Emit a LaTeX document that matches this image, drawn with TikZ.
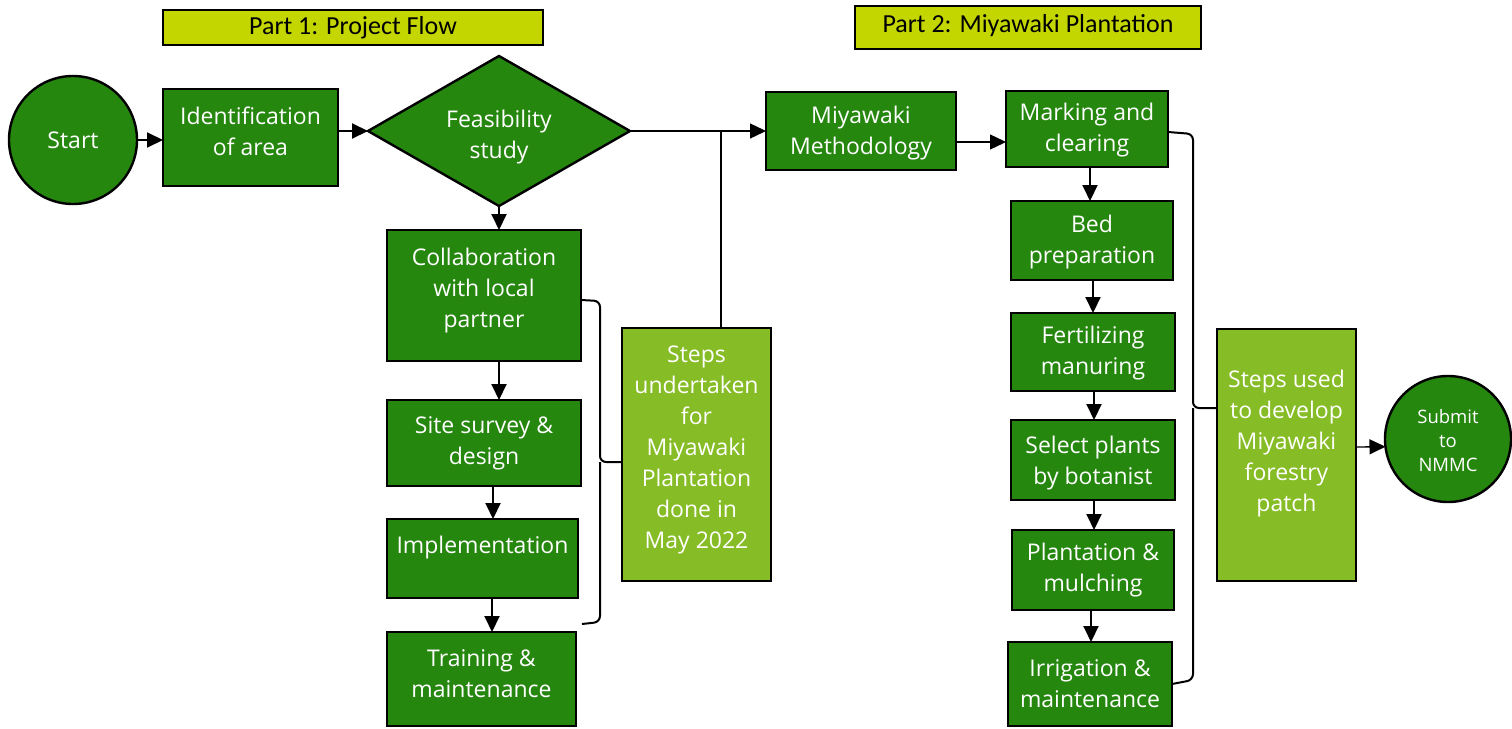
\documentclass[tikz,border=0pt]{standalone}
\usepackage{fontspec}
\setmainfont{Open Sans}
\newfontfamily\titlefont{Carlito}
\usetikzlibrary{shapes.geometric,arrows.meta}
\definecolor{dkgreen}{RGB}{38,135,15}
\definecolor{ltgreen}{RGB}{134,188,37}
\definecolor{titlecol}{RGB}{196,214,0}
\newcommand{\hst}[1][17]{\rule{0pt}{#1pt}}
\newcommand{\dst}[1][16]{\rule[-#1pt]{0pt}{0pt}}
\begin{document}
\begin{tikzpicture}[x=1pt,y=-1pt,
  every node/.style={inner sep=0pt, outer sep=0pt},
  box/.style={draw=black, line width=2.4pt, fill=dkgreen, text=white, align=center,
    font=\fontsize{23}{31}\selectfont},
  lbox/.style={box, fill=ltgreen},
  rnd/.style={box, circle},
  titlebox/.style={draw=black, line width=1.2pt, fill=titlecol, text=black,
    font=\titlefont\fontsize{26}{30}\selectfont},
  arr/.style={line width=2pt, -{Triangle[length=16pt,width=15pt]}},
  tarr/.style={line width=1.3pt, -{Triangle[length=16pt,width=15pt]}},
  thin/.style={line width=1.3pt},
  brace/.style={line width=2pt, rounded corners=6pt}]
\useasboundingbox (0,0) rectangle (1512,728);

% titles
\node[titlebox, minimum width=380pt, minimum height=35pt] (t1) at (353,27.5) {Part 1: Project Flow};
\node[titlebox, minimum width=346pt, minimum height=43pt] (t2) at (1028,27.5) {Part 2: Miyawaki Plantation\rule[-9pt]{0pt}{0pt}};

% part 1
\node[rnd, minimum size=128pt] (start) at (73,140) {\hst Start};
\node[box, minimum width=175pt, minimum height=97pt] (ident) at (250.5,137.5) {\hst Identification\\of area\dst[12]};
\node[box, diamond, aspect=1.75, minimum width=262pt, minimum height=150pt] (feas) at (499,131) {\hst[29]Feasibility\\study};
\node[box, minimum width=194pt, minimum height=131pt] (collab) at (484,295.5) {\hst Collaboration\\with local\\partner\dst};
\node[box, minimum width=194pt, minimum height=86pt] (site) at (484,443) {\hst Site survey \&\\design\dst[4]};
\node[box, minimum width=191pt, minimum height=79pt] (impl) at (482.5,558.5) {\hst Implementation\dst[28]};
\node[box, minimum width=189pt, minimum height=94pt] (train) at (481.5,679) {\hst Training \&\\maintenance\dst[12]};
\node[lbox, minimum width=149pt, minimum height=253pt] (stepsA) at (696.5,454.5) {\hst Steps\\undertaken\\for\\Miyawaki\\Plantation\\done in\\May 2022\dst[15]};

% part 2
\node[box, minimum width=190pt, minimum height=78pt] (meth) at (861,131) {\hst[21]Miyawaki\\Methodology};
\node[box, minimum width=162pt, minimum height=76pt] (mark) at (1087,129) {\hst[19]Marking and\\clearing};
\node[box, minimum width=162pt, minimum height=79pt] (bed) at (1092,240.5) {\hst[21]Bed\\preparation};
\node[box, minimum width=164pt, minimum height=78pt] (fert) at (1093,352) {\hst[19]Fertilizing\\manuring};
\node[box, minimum width=164pt, minimum height=80pt] (sel) at (1093,460) {\hst[23]Select plants\\by botanist};
\node[box, minimum width=162pt, minimum height=80pt] (plant) at (1093,570) {\hst Plantation \&\\mulching};
\node[box, minimum width=164pt, minimum height=84pt] (irrig) at (1090,684) {\hst Irrigation \&\\maintenance\dst[2]};
\node[lbox, minimum width=139pt, minimum height=252pt] (stepsB) at (1286.5,455) {\hst Steps used\\to develop\\Miyawaki\\forestry\\patch\dst[29]};
\node[rnd, minimum size=126pt, font=\fontsize{18.5}{24}\selectfont] (submit) at (1448,439) {\hst[18]Submit\\to\\NMMC\rule[-1pt]{0pt}{0pt}};

% connectors part 1
\draw[arr] (start.east) -- (start.east -| ident.west);
\draw[arr] ([yshift=6.5pt]ident.east) -- (feas.west);
\draw[arr] (feas.south) -- (feas.south |- collab.north);
\draw[arr] ([xshift=15pt]collab.south) -- ([xshift=15pt]collab.south |- site.north);
\draw[arr] ([xshift=9pt]site.south) -- ([xshift=9pt]site.south |- impl.north);
\draw[arr] ([xshift=9.5pt]impl.south) -- ([xshift=9.5pt]impl.south |- train.north);
\draw[tarr] (feas.east) -- (meth.west);
\draw[thin] ([xshift=24.5pt]stepsA.north) -- ([xshift=24.5pt]stepsA.north |- feas.east);

% brace part 1
\coordinate (bA1) at (600,301);
\coordinate (bA2) at (600,462);
\coordinate (bA3) at (600,622);
\coordinate (bAend) at (582,624);
\draw[brace] ([yshift=-4.5pt]collab.east) -- (bA1) -- (bA2) -- ([yshift=-7.5pt]stepsA.west);
\draw[brace] (bA2) -- (bA3) -- (bAend);

% connectors part 2
\draw[tarr] ([yshift=-11pt]meth.east) -- ([yshift=-11pt]meth.east -| mark.west);
\draw[arr] ([xshift=3pt]mark.south) -- ([xshift=3pt]mark.south |- bed.north);
\draw[arr] ([xshift=1pt]bed.south) -- ([xshift=1pt]bed.south |- fert.north);
\draw[arr] ([xshift=1pt]fert.south) -- ([xshift=1pt]fert.south |- sel.north);
\draw[arr] ([xshift=1pt]sel.south) -- ([xshift=1pt]sel.south |- plant.north);
\draw[arr] ([xshift=-2pt]plant.south) -- ([xshift=-2pt]plant.south |- irrig.north);
\draw[tarr] ([yshift=8pt]stepsB.east) -- (submit.187);

% brace part 2
\coordinate (bB1) at (1193,134);
\coordinate (bB2) at (1193,408);
\coordinate (bB3) at (1193,680);
\draw[brace] ([yshift=-3pt]mark.east) -- (bB1) -- (bB2) -- ([yshift=47pt]stepsB.west);
\draw[brace] (bB2) -- (bB3) -- (irrig.east);
\end{tikzpicture}
\end{document}
